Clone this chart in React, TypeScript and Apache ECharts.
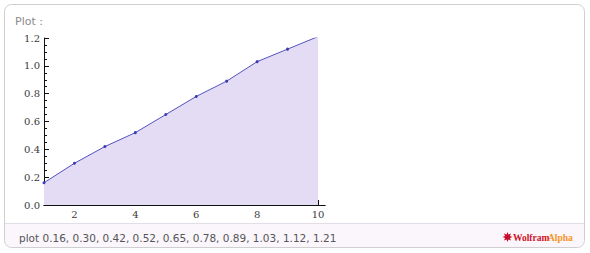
import React, { useEffect, useRef } from "react";
import * as echarts from "echarts";

const xValues = [1, 2, 3, 4, 5, 6, 7, 8, 9, 10];
const yValues = [0.16, 0.3, 0.42, 0.52, 0.65, 0.78, 0.89, 1.03, 1.12, 1.21];
const xMajorTicks = [2, 4, 6, 8, 10];
const xMinorTicks = [1.5, 2.5, 3, 3.5, 4.5, 5, 5.5, 6.5, 7, 7.5, 8.5, 9, 9.5];
const inputText = "plot 0.16, 0.30, 0.42, 0.52, 0.65, 0.78, 0.89, 1.03, 1.12, 1.21";

function starPoints(cx: number, cy: number, r1: number, r2: number, n: number) {
  const pts: number[][] = [];
  for (let i = 0; i < n * 2; i++) {
    const r = i % 2 === 0 ? r1 : r2;
    const a = (Math.PI * i) / n - Math.PI / 2;
    pts.push([cx + r * Math.cos(a), cy + r * Math.sin(a)]);
  }
  return pts;
}

export default function App() {
  const ref = useRef<HTMLDivElement>(null);
  useEffect(() => {
    if (!ref.current) return;
    const chart = echarts.init(ref.current, undefined, { renderer: "svg" });
    const labelFont = { fontFamily: "DejaVu Serif", fontSize: 10, color: "#3a3a3a" };
    const common = {
      type: "value" as const,
      min: 1,
      max: 10.23,
      splitLine: { show: false },
      axisLine: { show: true, lineStyle: { color: "#111", width: 1 } },
    };
    chart.setOption({
      animation: false,
      backgroundColor: "#fff",
      grid: { left: 44, right: 265, top: 38, bottom: 48, containLabel: false },
      xAxis: [
        {
          ...common,
          position: "bottom",
          axisTick: { show: true, inside: true, length: 5, customValues: xMajorTicks, lineStyle: { color: "#111" } },
          axisLabel: { show: true, margin: 4, customValues: xMajorTicks, ...labelFont },
        },
        {
          ...common,
          position: "bottom",
          axisTick: { show: true, inside: true, length: 3, customValues: xMinorTicks, lineStyle: { color: "#111" } },
          axisLabel: { show: false },
        },
      ],
      yAxis: {
        type: "value",
        min: 0,
        max: 1.2,
        interval: 0.2,
        splitLine: { show: false },
        axisLine: { show: true, lineStyle: { color: "#111", width: 1 } },
        axisTick: { show: true, inside: true, length: 5, lineStyle: { color: "#111" } },
        minorTick: { show: true, splitNumber: 4, length: 3, lineStyle: { color: "#111" } },
        axisLabel: {
          margin: 4,
          formatter: (v: number) => v.toFixed(1),
          ...labelFont,
        },
      },
      series: [
        {
          type: "line",
          xAxisIndex: 0,
          data: xValues.map((x, i) => [x, yValues[i]]),
          symbol: "circle",
          symbolSize: 3,
          itemStyle: { color: "#3b3bb0" },
          lineStyle: { color: "#5252bd", width: 1 },
          areaStyle: { color: "#e4dbf5", opacity: 1 },
          z: 1,
        },
      ],
      graphic: [
        {
          type: "rect",
          shape: { x: 4.5, y: 4.5, width: 580, height: 243, r: 7 },
          style: { fill: "none", stroke: "#cfcfcf", lineWidth: 1 },
          z: -10,
        },
        {
          type: "rect",
          shape: { x: 5, y: 224, width: 579, height: 23, r: [0, 0, 7, 7] },
          style: { fill: "#faf6fc" },
          z: -11,
        },
        {
          type: "line",
          shape: { x1: 5, y1: 223.5, x2: 584, y2: 223.5 },
          style: { stroke: "#e2dde6", lineWidth: 1 },
        },
        {
          type: "text",
          x: 15,
          y: 21,
          style: { text: "Plot :", fill: "#8a8a8a", font: "11px 'DejaVu Sans'", textVerticalAlign: "middle" },
        },
        {
          type: "text",
          x: 19,
          y: 238,
          style: { text: inputText, fill: "#555", font: "10.5px 'DejaVu Sans'", textVerticalAlign: "middle" },
        },
        {
          type: "polygon",
          shape: { points: starPoints(507.5, 237, 5, 2.6, 8) },
          style: { fill: "#c8102e" },
        },
        {
          type: "text",
          x: 513,
          y: 237.5,
          style: { text: "Wolfram", fill: "#d1122a", font: "bold 9.5px 'Liberation Serif'", textVerticalAlign: "middle" },
        },
        {
          type: "text",
          x: 548,
          y: 237.5,
          style: { text: "Alpha", fill: "#f7941d", font: "bold 9.5px 'Liberation Serif'", textVerticalAlign: "middle" },
        },
      ],
    });
    return () => chart.dispose();
  }, []);
  return (
    <div
      ref={ref}
      style={{ position: "fixed", left: 0, top: 0, width: 590, height: 253 }}
    />
  );
}
